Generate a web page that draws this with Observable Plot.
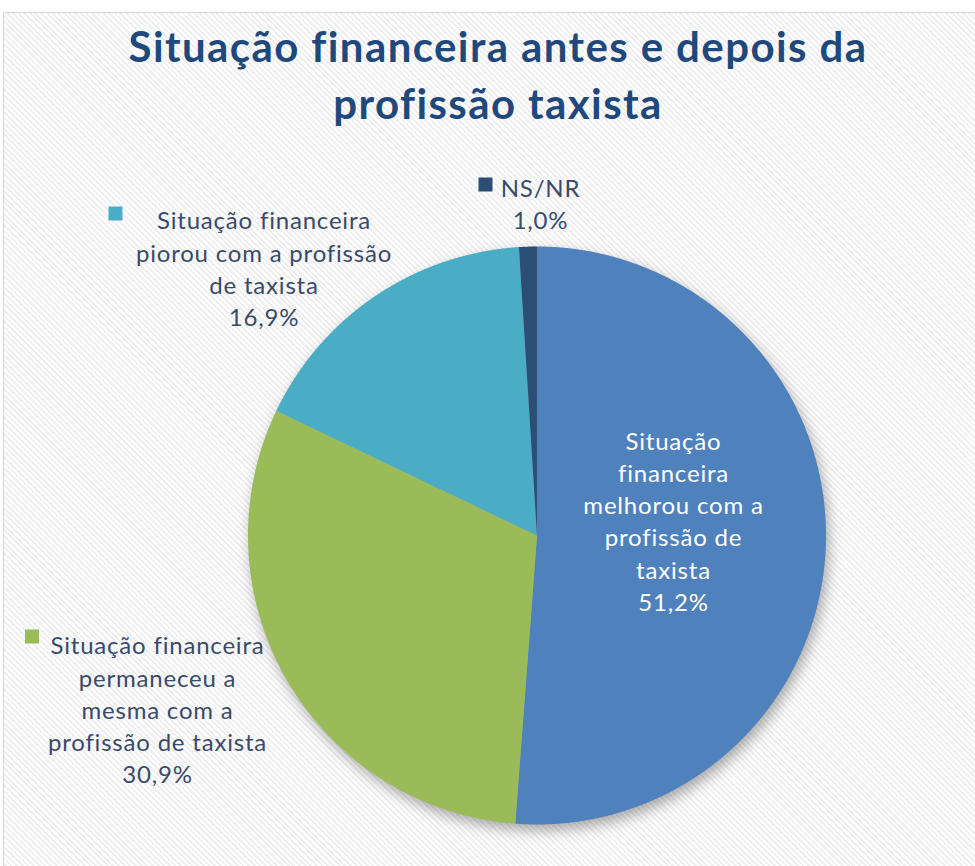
<!DOCTYPE html>
<html><head><meta charset="utf-8">
<script src="https://cdn.jsdelivr.net/npm/d3@7"></script>
<script src="https://cdn.jsdelivr.net/npm/@observablehq/plot@0.6"></script>
<style>
body{margin:0;background:#fff;}
#wrap{position:relative;width:975px;height:866px;overflow:hidden;}
#box{position:absolute;left:3px;top:12px;width:990px;height:880px;border:1.5px solid #d6d6d6;box-sizing:border-box;
background:repeating-linear-gradient(45deg,#ffffff 0px,#ffffff 2px,#efefef 2px,#efefef 4px);}
#title{position:absolute;left:0;top:18px;width:996px;text-align:center;font:bold 42px/57px Lato,"Open Sans",sans-serif;letter-spacing:1.4px;color:#1F497D;}
#plot{position:absolute;left:0;top:0;}
#plot svg text{letter-spacing:0.8px;}
#plot svg g[aria-label="line"]{filter:drop-shadow(3px 6px 7px rgba(0,0,0,0.33));}
</style></head>
<body><div id="wrap"><div id="box"></div><div id="title">Situação financeira antes e depois da<br>profissão taxista</div><div id="plot"></div></div>
<script>
// ---- data ----
const categories = [
  "Situação financeira melhorou com a profissão de taxista",
  "Situação financeira permaneceu a mesma com a profissão de taxista",
  "Situação financeira piorou com a profissão de taxista",
  "NS/NR"
];
const values = [51.2, 30.9, 16.9, 1.0];
const valueLabels = ["51,2%", "30,9%", "16,9%", "1,0%"];
const labelText = [
  "Situação\nfinanceira\nmelhorou com a\nprofissão de\ntaxista",
  "Situação financeira\npermaneceu a\nmesma com a\nprofissão de taxista",
  "Situação financeira\npiorou com a profissão\nde taxista",
  "NS/NR"
];
const colors = ["#4F81BD", "#9BBB59", "#4BACC6", "#2C4D75"];

// ---- layout ----
const cx = 536.5, cy = 535, R = 289;
const labelPos = [ // centre of each label block, inside flag, legend key position
  {x: 673, y: 519.5, inside: true, key: null},
  {x: 157, y: 708, inside: false, key: [31.5, 636]},
  {x: 263.5, y: 267, inside: false, key: [115, 213]},
  {x: 540, y: 202, inside: false, key: [485, 184]}
];

const rows = categories.map((k, i) => ({k, value: values[i]}));
const arcs = d3.pie().sort(null).value(d => d.value)(rows);
const pts = [];
arcs.forEach(a => {
  const k = a.data.k;
  const n = Math.max(2, Math.ceil((a.endAngle - a.startAngle) / 0.004));
  pts.push({k, x: cx, y: cy});
  for (let i = 0; i <= n; i++) {
    const t = a.startAngle + (a.endAngle - a.startAngle) * i / n;
    pts.push({k, x: cx + R * Math.sin(t), y: cy - R * Math.cos(t)});
  }
  pts.push({k, x: cx, y: cy});
});
const labels = categories.map((k, i) => ({k, text: labelText[i] + "\n" + valueLabels[i], ...labelPos[i]}));
const keys = labels.filter(d => d.key).map(d => ({k: d.k, x: d.key[0], y: d.key[1]}));

const chart = Plot.plot({
  width: 975, height: 866, margin: 0,
  x: {domain: [0, 975], range: [0, 975], axis: null},
  y: {domain: [0, 866], range: [0, 866], axis: null},
  color: {domain: categories, range: colors},
  style: {background: "transparent", overflow: "visible"},
  marks: [
    Plot.line(pts, {x: "x", y: "y", z: "k", fill: "k", stroke: "none", curve: "linear"}),
    Plot.text(labels.filter(d => d.inside), {x: "x", y: "y", text: "text", fill: "white",
      fontFamily: "Lato", fontSize: 24, lineHeight: 1.345, lineAnchor: "middle", textAnchor: "middle"}),
    Plot.text(labels.filter(d => !d.inside), {x: "x", y: "y", text: "text", fill: "#3a4a6a",
      fontFamily: "Lato", fontSize: 24, lineHeight: 1.345, lineAnchor: "middle", textAnchor: "middle"}),
    Plot.dot(keys, {x: "x", y: "y", fill: "k", symbol: "square", r: 7.9, stroke: "none"})
  ]
});
document.getElementById("plot").appendChild(chart);
</script>
</body></html>
